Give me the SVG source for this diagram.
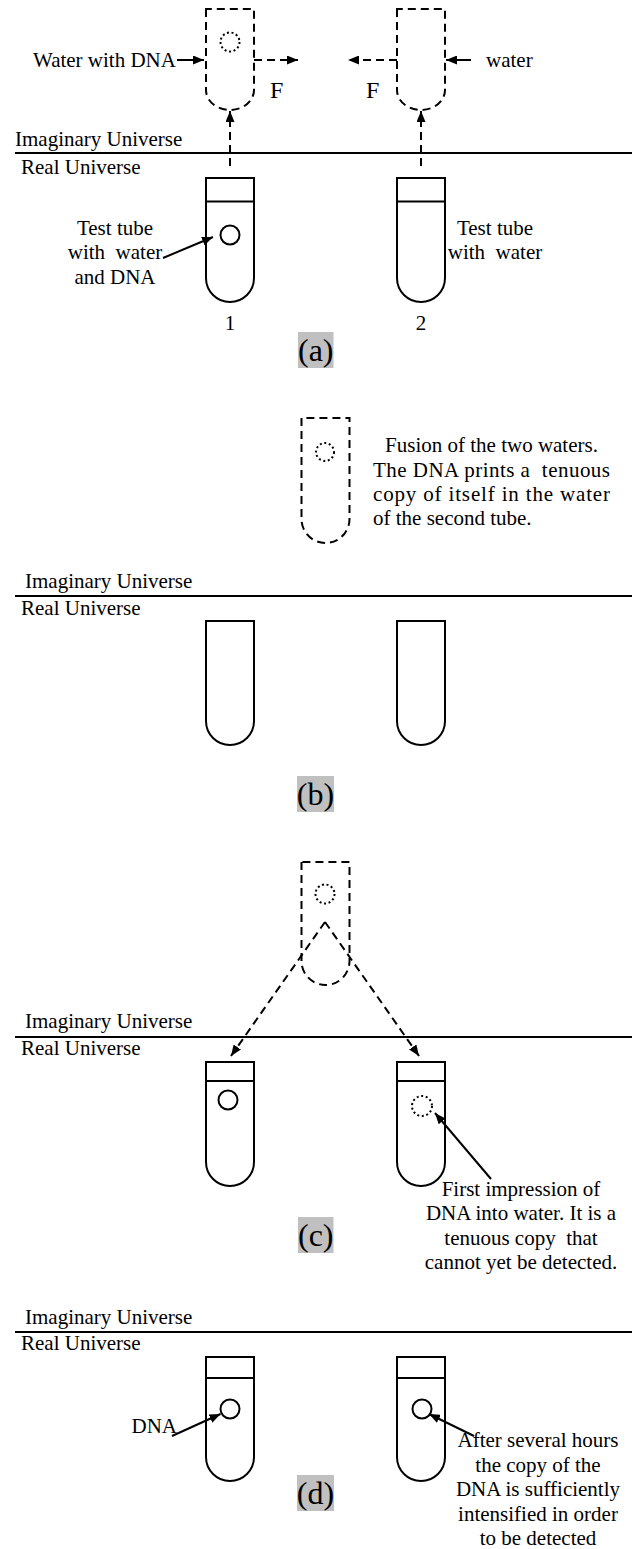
<svg xmlns="http://www.w3.org/2000/svg" width="632" height="1549" viewBox="0 0 632 1549">
<defs>
<style>
text { font-family: "Liberation Serif", "Times New Roman", serif; font-size: 21px; fill: #000; white-space: pre; }
.big { font-size: 32px; }
.f { font-size: 24px; }
.mid { text-anchor: middle; }
.tube { fill: none; stroke: #000; stroke-width: 2; }
.dtube { fill: none; stroke: #000; stroke-width: 2; stroke-dasharray: 8 5; }
.dna { fill: none; stroke: #000; stroke-width: 2; }
.ddna { fill: none; stroke: #000; stroke-width: 2; stroke-dasharray: 2 2.6; }
.sep { stroke: #000; stroke-width: 2; }
.arr { stroke: #000; stroke-width: 2; fill: none; marker-end: url(#ah); }
.darr { stroke: #000; stroke-width: 2; fill: none; stroke-dasharray: 8 5; marker-end: url(#ah); }
.lbl { fill: #c0c0c0; }
</style>
<marker id="ah" markerUnits="userSpaceOnUse" markerWidth="11" markerHeight="9" refX="11" refY="4.5" orient="auto"><path d="M0,0 L11,4.5 L0,9 Z" fill="#000"/></marker>
</defs>
<rect width="632" height="1549" fill="#fff"/>

<!-- Panel (a) -->
<g id="a-imag-tube1"><path class="dtube" d="M206,9 L206,90 A24,20 0 0 0 254,90 L254,9 Z"/><circle class="ddna" cx="230" cy="42" r="9.5"/></g>
<g id="a-imag-tube2"><path class="dtube" d="M397,9 L397,90 A24,20 0 0 0 445,90 L445,9 Z"/></g>
<g id="a-label-water-dna"><text x="33" y="67">Water with DNA</text></g>
<g id="a-label-water"><text x="486" y="67">water</text></g>
<g id="a-F1"><text class="f" x="270" y="98">F</text></g>
<g id="a-F2"><text class="f" x="366" y="98">F</text></g>
<g id="a-divider"><text x="15" y="146">Imaginary Universe</text><line class="sep" x1="15" y1="153" x2="632" y2="153"/><text x="21" y="174">Real Universe</text></g>
<g id="a-real-tube1"><path class="tube" d="M206,178 L206,278 A24,24 0 0 0 254,278 L254,178 Z"/><line class="tube" x1="206" y1="201.5" x2="254" y2="201.5"/><circle class="dna" cx="230" cy="235" r="9.5"/></g>
<g id="a-real-tube2"><path class="tube" d="M397,178 L397,278 A24,24 0 0 0 445,278 L445,178 Z"/><line class="tube" x1="397" y1="201.5" x2="445" y2="201.5"/></g>
<g id="a-label-tube1"><text class="mid" x="115" y="235">Test tube</text><text class="mid" x="115" y="259">with  water</text><text class="mid" x="115" y="284">and DNA</text></g>
<g id="a-label-tube2"><text class="mid" x="495" y="235">Test tube</text><text class="mid" x="495" y="259">with  water</text></g>
<g id="a-num1"><text class="mid" x="230" y="330">1</text></g>
<g id="a-num2"><text class="mid" x="421" y="330">2</text></g>
<g id="a-caption"><rect class="lbl" x="298" y="332" width="35.5" height="36"/><text class="big mid" x="315.75" y="360.5">(a)</text></g>

<!-- Panel (b) -->
<g id="b-imag-tube"><path class="dtube" d="M301.5,418 L301.5,519 A24,24 0 0 0 349.5,519 L349.5,418 Z"/><circle class="ddna" cx="325" cy="452" r="9"/></g>
<g id="b-label-fusion">
<text class="mid" x="491.5" y="452">Fusion of the two waters.</text>
<text x="373" y="476.5" textLength="237" lengthAdjust="spacing">The DNA prints a  tenuous</text>
<text x="373" y="500.5" textLength="237" lengthAdjust="spacing">copy of itself in the water</text>
<text x="373" y="524.5">of the second tube.</text>
</g>
<g id="b-divider"><text x="25" y="588">Imaginary Universe</text><line class="sep" x1="15" y1="596" x2="632" y2="596"/><text x="21" y="615">Real Universe</text></g>
<g id="b-real-tube1"><path class="tube" d="M206,621 L206,721 A24,24 0 0 0 254,721 L254,621 Z"/></g>
<g id="b-real-tube2"><path class="tube" d="M397,621 L397,721 A24,24 0 0 0 445,721 L445,621 Z"/></g>
<g id="b-caption"><rect class="lbl" x="297" y="776" width="37" height="36"/><text class="big mid" x="315.5" y="804.5">(b)</text></g>

<!-- Panel (c) -->
<g id="c-imag-tube"><path class="dtube" d="M301.5,862 L301.5,961 A24,24 0 0 0 349.5,961 L349.5,862 Z"/><circle class="ddna" cx="325" cy="894" r="9.5"/></g>
<g id="c-divider"><text x="25" y="1028">Imaginary Universe</text><line class="sep" x1="15" y1="1037" x2="632" y2="1037"/><text x="21" y="1055">Real Universe</text></g>
<g id="c-real-tube1"><path class="tube" d="M206,1062 L206,1162 A24,24 0 0 0 254,1162 L254,1062 Z"/><line class="tube" x1="206" y1="1081" x2="254" y2="1081"/><circle class="dna" cx="228" cy="1100" r="9.5"/></g>
<g id="c-real-tube2"><path class="tube" d="M397,1062 L397,1162 A24,24 0 0 0 445,1162 L445,1062 Z"/><line class="tube" x1="397" y1="1081" x2="445" y2="1081"/><circle class="ddna" cx="422" cy="1106" r="10"/></g>
<g id="c-label-impression">
<text class="mid" x="521" y="1195.5">First impression of</text>
<text class="mid" x="521" y="1220">DNA into water. It is a</text>
<text class="mid" x="521" y="1244.5">tenuous copy  that</text>
<text class="mid" x="521" y="1269">cannot yet be detected.</text>
</g>
<g id="c-caption"><rect class="lbl" x="298" y="1217" width="35.5" height="36"/><text class="big mid" x="315.75" y="1245.5">(c)</text></g>

<!-- Panel (d) -->
<g id="d-divider"><text x="25" y="1324">Imaginary Universe</text><line class="sep" x1="15" y1="1332" x2="632" y2="1332"/><text x="21" y="1350">Real Universe</text></g>
<g id="d-real-tube1"><path class="tube" d="M206,1357 L206,1457 A24,24 0 0 0 254,1457 L254,1357 Z"/><line class="tube" x1="206" y1="1378" x2="254" y2="1378"/><circle class="dna" cx="230" cy="1409" r="9.5"/></g>
<g id="d-real-tube2"><path class="tube" d="M397,1357 L397,1457 A24,24 0 0 0 445,1457 L445,1357 Z"/><line class="tube" x1="397" y1="1378" x2="445" y2="1378"/><circle class="dna" cx="422" cy="1409" r="9.5"/></g>
<g id="d-label-dna"><text x="131.5" y="1433">DNA</text></g>
<g id="d-label-after">
<text class="mid" x="538" y="1447">After several hours</text>
<text class="mid" x="538" y="1471.5">the copy of the</text>
<text class="mid" x="538" y="1496">DNA is sufficiently</text>
<text class="mid" x="538" y="1520.5">intensified in order</text>
<text class="mid" x="538" y="1545">to be detected</text>
</g>
<g id="d-caption"><rect class="lbl" x="297" y="1475" width="37" height="36"/><text class="big mid" x="315.5" y="1503.5">(d)</text></g>

<!-- Connectors -->
<g id="connectors">
<line class="arr" x1="177" y1="60" x2="204" y2="60"/>
<line class="arr" x1="471" y1="60" x2="446" y2="60"/>
<line class="darr" x1="254" y1="60" x2="298" y2="60"/>
<line class="darr" x1="397" y1="60" x2="348" y2="60"/>
<line class="darr" x1="230" y1="166" x2="230" y2="111"/>
<line class="darr" x1="421" y1="166" x2="421" y2="111"/>
<line class="arr" x1="163" y1="258" x2="213" y2="237"/>
<line class="darr" x1="325" y1="922" x2="231" y2="1056"/>
<line class="darr" x1="325" y1="922" x2="419" y2="1056"/>
<line class="arr" x1="491" y1="1179" x2="435" y2="1113"/>
<line class="arr" x1="172" y1="1436" x2="220.5" y2="1414"/>
<line class="arr" x1="474" y1="1436" x2="429" y2="1414"/>
</g>
</svg>
